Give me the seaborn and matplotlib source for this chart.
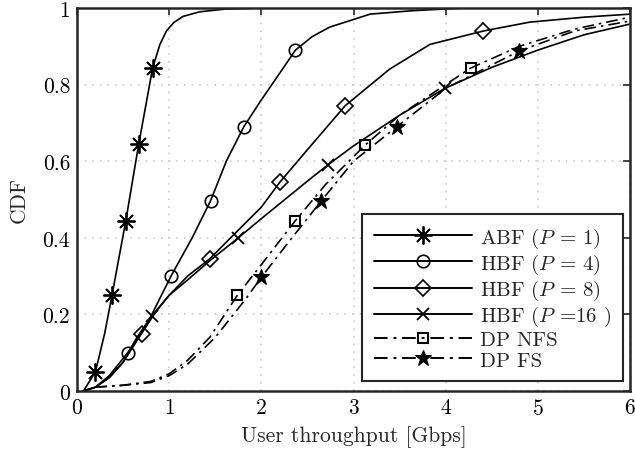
import matplotlib
matplotlib.use("Agg")
import matplotlib.pyplot as plt
from matplotlib.lines import Line2D
import seaborn as sns

# ---- CDF curves of user throughput [Gbps] ----
abf_x = [0.07, 0.20, 0.30, 0.38, 0.53, 0.67, 0.75, 0.82, 0.90, 0.97, 1.05, 1.15, 1.33, 1.60, 2.00, 6.00]
abf_y = [0.00, 0.05, 0.15, 0.25, 0.445, 0.645, 0.75, 0.843, 0.905, 0.94, 0.962, 0.978, 0.99, 0.997, 1.00, 1.00]
abf_marks = [1, 3, 4, 5, 7]

hbf4_x = [0.07, 0.20, 0.35, 0.55, 0.75, 1.02, 1.25, 1.45, 1.62, 1.81, 2.00, 2.20, 2.37, 2.55, 2.74, 3.00, 3.18, 3.64, 4.20, 6.00]
hbf4_y = [0.00, 0.01, 0.04, 0.10, 0.17, 0.30, 0.40, 0.497, 0.60, 0.69, 0.76, 0.83, 0.89, 0.925, 0.95, 0.97, 0.984, 0.993, 1.00, 1.00]
hbf4_marks = [3, 5, 7, 9, 12]

hbf8_x = [0.07, 0.20, 0.35, 0.50, 0.70, 0.85, 1.00, 1.20, 1.44, 1.75, 2.00, 2.20, 2.50, 2.91, 3.39, 3.83, 4.41, 4.91, 5.50, 6.00]
hbf8_y = [0.00, 0.01, 0.035, 0.075, 0.15, 0.205, 0.25, 0.30, 0.345, 0.42, 0.48, 0.545, 0.63, 0.745, 0.84, 0.905, 0.94, 0.963, 0.976, 0.984]
hbf8_marks = [4, 8, 11, 13, 16]

hbf16_x = [0.07, 0.20, 0.35, 0.50, 0.65, 0.81, 1.00, 1.20, 1.44, 1.75, 2.00, 2.50, 2.72, 3.00, 3.50, 3.99, 4.50, 5.00, 5.50, 6.00]
hbf16_y = [0.00, 0.01, 0.035, 0.075, 0.14, 0.196, 0.25, 0.29, 0.34, 0.40, 0.45, 0.548, 0.59, 0.64, 0.72, 0.79, 0.845, 0.89, 0.93, 0.958]
hbf16_marks = [5, 9, 12, 15]

nfs_x = [0.20, 0.50, 0.80, 1.00, 1.20, 1.44, 1.74, 2.00, 2.37, 2.70, 3.13, 3.50, 4.27, 4.80, 5.40, 6.00]
nfs_y = [0.01, 0.015, 0.025, 0.045, 0.08, 0.14, 0.25, 0.33, 0.445, 0.54, 0.643, 0.72, 0.843, 0.90, 0.945, 0.976]
nfs_marks = [6, 8, 10, 12]

fs_x = [0.20, 0.50, 0.80, 1.00, 1.20, 1.50, 1.83, 2.00, 2.30, 2.65, 3.00, 3.47, 4.00, 4.80, 5.40, 6.00]
fs_y = [0.01, 0.015, 0.022, 0.04, 0.07, 0.14, 0.24, 0.297, 0.39, 0.496, 0.60, 0.69, 0.79, 0.888, 0.94, 0.966]
fs_marks = [7, 9, 11, 13]

labels = [r"ABF ($P$ = 1)", r"HBF ($P$ = 4)", r"HBF ($P$ = 8)",
          r"HBF ($P$ =16 )", "DP NFS", "DP FS"]

x_ticks = [0, 1, 2, 3, 4, 5, 6]
y_ticks = [0, 0.2, 0.4, 0.6, 0.8, 1.0]
y_tick_labels = ["0", "0.2", "0.4", "0.6", "0.8", "1"]

FS = 15.5

sns.set_style("white")
plt.rcParams.update({
    "font.family": "serif",
    "font.serif": ["cmr10"],
    "mathtext.fontset": "cm",
    "axes.formatter.use_mathtext": True,
    "font.size": FS,
})

fig = plt.figure(figsize=(6.35, 4.52), dpi=100)
ax = fig.add_axes([77 / 635, 60 / 452, 553 / 635, 383 / 452])

dashdot = (0, (7, 3, 1.5, 3))
series = [
    (abf_x, abf_y, abf_marks, dict(marker=(8, 2, 0), markersize=13, mfc="black", mew=1.3), "-"),
    (hbf4_x, hbf4_y, hbf4_marks, dict(marker="o", markersize=9, mfc="none", mew=1.2), "-"),
    (hbf8_x, hbf8_y, hbf8_marks, dict(marker="D", markersize=8, mfc="none", mew=1.2), "-"),
    (hbf16_x, hbf16_y, hbf16_marks, dict(marker="x", markersize=9, mfc="none", mew=1.3), "-"),
    (nfs_x, nfs_y, nfs_marks, dict(marker="s", markersize=7.5, mfc="none", mew=1.5), dashdot),
    (fs_x, fs_y, fs_marks, dict(marker="*", markersize=12, mfc="black", mew=0.8), dashdot),
]

handles = []
for (xs, ys, marks, mk, ls), lab in zip(series, labels):
    sns.lineplot(x=xs, y=ys, ax=ax, color="black", lw=1.2, linestyle=ls,
                 markevery=marks, mec="black", sort=False, estimator=None,
                 legend=False, **mk)
    handles.append(Line2D([], [], color="black", lw=1.4, linestyle=ls, mec="black", **mk))

ax.set_xlim(0, 6)
ax.set_ylim(0, 1)
ax.set_xticks(x_ticks)
ax.set_yticks(y_ticks)
ax.set_yticklabels(y_tick_labels)
ax.grid(True, color="#c4c4c4", linestyle=(0, (1, 4)), lw=1.1)
ax.tick_params(direction="in", top=True, right=True, length=5, width=1.2,
               colors="#262626", labelcolor="black", labelsize=FS, pad=5)
for sp in ax.spines.values():
    sp.set_color("#262626")
    sp.set_linewidth(1.8)

ax.set_xlabel("User throughput [Gbps]", fontsize=FS, labelpad=5)
ax.set_ylabel("CDF", fontsize=FS, labelpad=10)

leg = ax.legend(handles, labels, loc="lower right", bbox_to_anchor=(0.987, 0.026),
                borderaxespad=0, numpoints=1, handlelength=4.7, handletextpad=0.4,
                labelspacing=0.1, borderpad=0.55, fancybox=False,
                framealpha=1, edgecolor="#262626", fontsize=15)
leg.get_frame().set_linewidth(1.5)

fig.savefig("out.png", dpi=100)
